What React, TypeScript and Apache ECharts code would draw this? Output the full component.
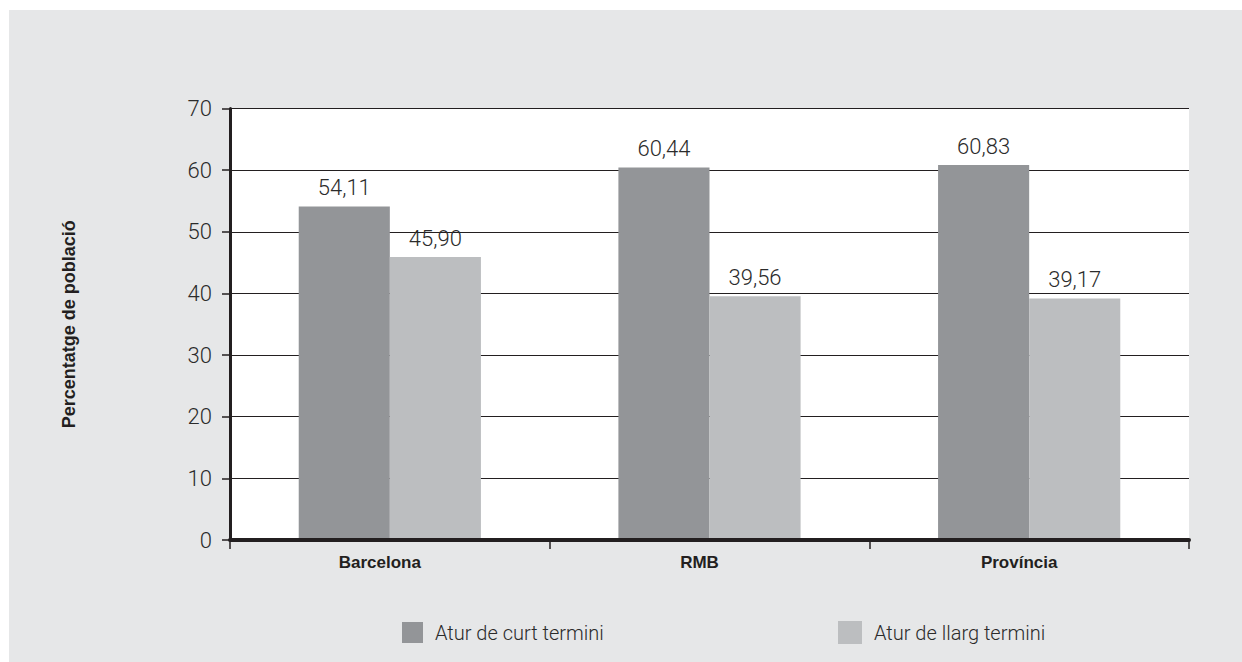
import React, { useEffect, useRef } from "react";
import * as echarts from "echarts";

const categories = ["Barcelona", "RMB", "Província"];
const seriesNames = ["Atur de curt termini", "Atur de llarg termini"];
const curtTermini = [54.11, 60.44, 60.83];
const llargTermini = [45.9, 39.56, 39.17];
const yMin = 0;
const yMax = 70;
const yInterval = 10;
const yAxisTitle = "Percentatge de població";

const INK = "#231f20";
const DARK = "#939598";
const LIGHT = "#bcbec0";

const fmt = (v: number) => v.toFixed(2).replace(".", ",");

export default function App() {
  const ref = useRef<HTMLDivElement>(null);
  useEffect(() => {
    if (!ref.current) return;
    const chart = echarts.init(ref.current, null, { renderer: "svg" });
    const labelStyle = {
      show: true,
      position: "top" as const,
      distance: 8,
      fontFamily: "Roboto",
      fontWeight: 300,
      fontSize: 22,
      color: "#2b2b2b",
      formatter: (p: any) => fmt(p.value),
    };
    const legendText = {
      fontFamily: "Roboto",
      fontWeight: 300,
      fontSize: 20,
      color: "#2b2b2b",
      padding: [0, 0, 0, 7],
    };
    chart.setOption({
      animation: false,
      backgroundColor: "#e6e7e8",
      legend: [
        {
          data: [seriesNames[0]],
          left: 388,
          top: 607,
          itemWidth: 21,
          itemHeight: 21,
          icon: "rect",
          textStyle: legendText,
        },
        {
          data: [seriesNames[1]],
          left: 824,
          top: 606,
          itemWidth: 24,
          itemHeight: 23,
          icon: "rect",
          textStyle: legendText,
        },
      ],
      grid: {
        left: 221,
        right: 53,
        top: 98.5,
        bottom: 122,
        show: true,
        backgroundColor: "#ffffff",
        borderWidth: 0,
      },
      xAxis: {
        type: "category",
        data: categories,
        z: 10,
        axisLine: { lineStyle: { color: INK, width: 4 } },
        axisTick: { show: true, length: 9, lineStyle: { color: INK, width: 1.5 } },
        axisLabel: {
          fontFamily: "'Liberation Sans', Arial, sans-serif",
          fontWeight: "bold",
          fontSize: 17,
          color: INK,
          margin: 14,
          padding: [0, 20, 0, 0],
        },
      },
      yAxis: {
        type: "value",
        min: yMin,
        max: yMax,
        interval: yInterval,
        name: yAxisTitle,
        nameLocation: "middle",
        nameRotate: 90,
        nameGap: 152,
        nameTextStyle: {
          fontFamily: "'Liberation Sans', Arial, sans-serif",
          fontWeight: "bold",
          fontSize: 18,
          color: INK,
        },
        axisLine: { show: true, lineStyle: { color: INK, width: 3 } },
        axisTick: { show: true, length: 8, lineStyle: { color: INK, width: 1.5 } },
        splitLine: { show: true, lineStyle: { color: INK, width: 1.2 } },
        axisLabel: {
          fontFamily: "Roboto",
          fontWeight: 300,
          fontSize: 22,
          color: "#2b2b2b",
          margin: 18,
        },
      },
      series: [
        {
          name: seriesNames[0],
          type: "bar",
          data: curtTermini,
          barGap: "0%",
          barCategoryGap: "43%",
          itemStyle: { color: DARK },
          label: labelStyle,
        },
        {
          name: seriesNames[1],
          type: "bar",
          data: llargTermini,
          itemStyle: { color: LIGHT },
          label: labelStyle,
        },
      ],
    });
    return () => chart.dispose();
  }, []);
  return (
    <div
      ref={ref}
      style={{ position: "fixed", left: 9, top: 10, width: 1233, height: 652 }}
    />
  );
}
